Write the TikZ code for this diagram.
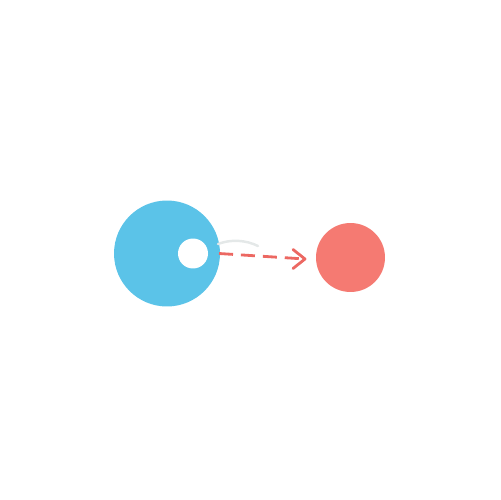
\documentclass[tikz,border=0pt]{standalone}
\usepackage{color}
\usepackage{tikz}
\usetikzlibrary{arrows}

\definecolor{cellblue}{RGB}{91,195,232}
\definecolor{cellred}{RGB}{245,122,114}
\definecolor{arrowred}{RGB}{236,104,98}
\definecolor{traceg}{RGB}{228,232,232}

\begin{document}
\begin{tikzpicture}[x=0.02cm,y=-0.02cm]
      \tikzstyle{every node}=[shape=circle,inner sep=0pt]
      \useasboundingbox (0,0) rectangle (500,500);

      \node[fill=cellblue,minimum size=2.12cm] (big) at (167,253.5) {};
      \node[fill=white,minimum size=0.6cm] (hole) at (193,253.5) {};
      \node[fill=cellred,minimum size=1.38cm] (small) at (350.5,257.5) {};

      \coordinate (a0) at (219,253.5);
      \coordinate (a1) at (305,259);
      \coordinate (g0) at (218,244);
      \coordinate (g1) at (258,246);

      \draw[traceg,line width=1.4pt,line cap=round] (g0) .. controls (231,239) and (246,240) .. (g1);
      \draw[arrowred,line width=1.6pt,dash pattern=on 8pt off 4.5pt] (a0) -- (a1);
      \draw[arrowred,line width=1.6pt,line cap=round,line join=round] (a1) ++(-12,-9.5) -- (a1) -- ++(-12,9.5);
\end{tikzpicture}
\end{document}
